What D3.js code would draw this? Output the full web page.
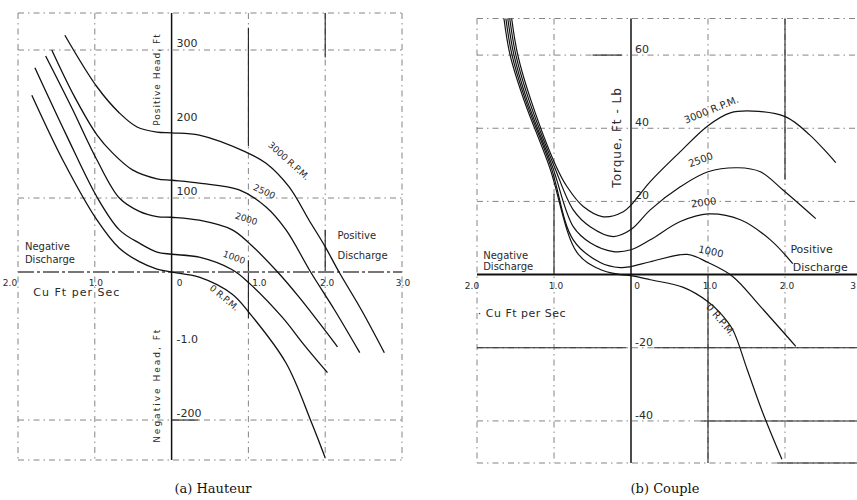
<!DOCTYPE html>
<html>
<head>
<meta charset="utf-8">
<script src="https://cdn.jsdelivr.net/npm/d3@7"></script>
<style>
  body { margin: 0; background: #fff; }
  text { font-family: "DejaVu Sans", sans-serif; fill: #2a2a2a; }
  .cap { font-family: "DejaVu Serif", serif; fill: #111; }
</style>
</head>
<body>
<div id="container"></div>
<script>
// ---------- data ----------
const qTicks = [-2, -1, 0, 1, 2, 3]
const qTickLabelsA = ["2.0", "1.0", "0", "1.0", "2.0", "3.0"]
const qTickLabelsB = ["2.0", "1.0", "0", "1.0", "2.0", "3"]

const headTicks = [300, 200, 100, -100, -200]
const headTickLabels = ["300", "200", "100", "-1.0", "-200"]
const torqueTicks = [60, 40, 20, -20, -40]
const torqueTickLabels = ["60", "40", "20", "-20", "-40"]

const gridQA = [-2, -1, 1, 2, 3]
const gridHead = [350, 300, 100, -200, -254]
const gridQB = [-2, -1, 1, 2, 3]
const gridTorque = [70, 60, 40, 20, -20, -40, -51.5]

const speedLabels = ["3000 R.P.M.", "2500", "2000", "1000", "0 R.P.M."]

// (a) head, ft  vs  discharge, cu ft per sec
const head3000 = [[-1.39, 320], [-0.97, 250], [-0.68, 215], [-0.45, 196], [-0.19, 189], [0, 188], [0.36, 185], [0.97, 162], [1.23, 147], [1.53, 115], [1.79, 70], [1.99, 36], [2.18, 0], [2.47, -51], [2.77, -109]]
const head2500 = [[-1.56, 300], [-1.27, 238], [-0.97, 185], [-0.77, 161], [-0.51, 138], [-0.19, 126], [0, 124], [0.36, 120], [0.88, 111], [1.23, 88], [1.49, 57], [1.81, 0], [2.12, -51], [2.45, -109]]
const head2000 = [[-1.64, 292], [-1.30, 222], [-0.97, 151], [-0.68, 100], [-0.42, 82], [-0.19, 75], [0, 74], [0.36, 70], [0.79, 57], [1.01, 39], [1.38, 0], [1.66, -34], [2.16, -101]]
const head1000 = [[-1.78, 276], [-1.37, 185], [-0.97, 101], [-0.68, 57], [-0.42, 39], [-0.19, 27], [0, 24], [0.36, 20], [0.79, 3], [1.01, -15], [1.44, -61], [1.73, -99], [2.03, -136]]
const head0 = [[-1.82, 239], [-1.40, 148], [-0.97, 70], [-0.68, 32], [-0.42, 14], [-0.19, 4], [0, 0], [0.36, -7], [0.79, -30], [1.01, -55], [1.49, -123], [1.82, -203], [2.0, -251]]

// (b) torque, ft-lb  vs  discharge, cu ft per sec
const torque3000 = [[-1.55, 70], [-1.47, 60], [-1.30, 47.7], [-0.97, 29.5], [-0.83, 24], [-0.62, 18.6], [-0.36, 15.8], [-0.1, 17.2], [0, 19], [0.25, 25.4], [0.64, 33.6], [1.0, 40.7], [1.29, 44.2], [1.58, 44.7], [2.01, 43.1], [2.32, 38.2], [2.66, 30.6]]
const torque2500 = [[-1.575, 70], [-1.495, 60], [-1.325, 47.7], [-0.995, 29.5], [-0.75, 17.7], [-0.53, 13.1], [-0.23, 10.4], [0, 12.3], [0.25, 17.7], [0.64, 24], [1.0, 28.1], [1.39, 29.2], [1.68, 28.1], [1.97, 23.2], [2.4, 15.3]]
const torque2000 = [[-1.60, 70], [-1.52, 60], [-1.35, 47.7], [-1.02, 29.5], [-0.75, 13.1], [-0.53, 8.7], [-0.23, 6.3], [0, 6.8], [0.25, 9.5], [0.64, 14.5], [1.0, 16.6], [1.42, 15], [1.81, 9.5], [2.1, 3]]
const torque1000 = [[-1.625, 70], [-1.545, 60], [-1.37, 47.7], [-1.04, 29.5], [-0.75, 9.5], [-0.4, 3.3], [-0.14, 1.9], [0, 2.2], [0.25, 3.5], [0.73, 5.5], [1.0, 3.3], [1.32, -0.5], [1.68, -8.7], [2.14, -19.6]]
const torque0 = [[-1.65, 70], [-1.57, 60], [-1.39, 47.7], [-1.06, 29.5], [-0.7, 6], [-0.4, 1.4], [-0.14, 0], [0, -0.3], [0.25, -1.4], [0.68, -3.5], [1.0, -7.4], [1.16, -10.5], [1.32, -15], [1.51, -26], [1.71, -37.7], [1.96, -50.5]]

const headSeries = [head3000, head2500, head2000, head1000, head0]
const torqueSeries = [torque3000, torque2500, torque2000, torque1000, torque0]

// ---------- layout ----------
const W = 857, H = 500
const svg = d3.select('#container').append('svg')
  .attr('width', W)
  .attr('height', H)
  .style('background', '#fff')

const xA = d3.scaleLinear().domain([-2, 3]).range([18, 402])
const yA = d3.scaleLinear().domain([350, -254]).range([13, 460])
const xB = d3.scaleLinear().domain([-2, 3]).range([477, 862])
const yB = d3.scaleLinear().domain([70, -51.5]).range([18.5, 463])

const gridDash = '6,4,1.5,4'

function drawGrid (g, x, y, qs, vs) {
  g.selectAll('.vg').data(qs).enter().append('line')
    .attr('x1', d => x(d)).attr('x2', d => x(d))
    .attr('y1', y.range()[0]).attr('y2', y.range()[1])
    .attr('stroke', '#666').attr('stroke-width', 0.8)
    .attr('stroke-dasharray', gridDash)
  g.selectAll('.hg').data(vs).enter().append('line')
    .attr('x1', x.range()[0]).attr('x2', x.range()[1])
    .attr('y1', d => y(d)).attr('y2', d => y(d))
    .attr('stroke', '#666').attr('stroke-width', 0.8)
    .attr('stroke-dasharray', gridDash)
}

function segs (g, x, y, list, width) {
  g.selectAll(null).data(list).enter().append('line')
    .attr('x1', d => x(d[0])).attr('y1', d => y(d[1]))
    .attr('x2', d => x(d[2])).attr('y2', d => y(d[3]))
    .attr('stroke', '#222').attr('stroke-width', width)
}

const line = (x, y) => d3.line()
  .x(d => x(d[0]))
  .y(d => y(d[1]))
  .curve(d3.curveCatmullRom.alpha(0.5))

// ================= (a) Hauteur =================
const gA = svg.append('g')
drawGrid(gA, xA, yA, gridQA, gridHead)
// darker pieces of the hand-drawn grid
segs(gA, xA, yA, [[1, 330, 1, 170], [2, 350, 2, 290], [1, 16, 1, -62], [2, 57, 2, 0], [0, -200, 0.35, -200]], 1.1)

// x axis (grey dash line) and y axis
gA.append('line')
  .attr('x1', xA(-2)).attr('x2', xA(3))
  .attr('y1', yA(0)).attr('y2', yA(0))
  .attr('stroke', '#777').attr('stroke-width', 2)
  .attr('stroke-dasharray', '16,3,3,3')
gA.append('line')
  .attr('x1', xA(0)).attr('x2', xA(0))
  .attr('y1', yA(350)).attr('y2', yA(-254))
  .attr('stroke', '#111').attr('stroke-width', 1.5)

gA.selectAll('.curve').data(headSeries).enter().append('path')
  .attr('d', d => line(xA, yA)(d))
  .attr('fill', 'none')
  .attr('stroke', '#111')
  .attr('stroke-width', 1.3)

const tickDxA = [-8, 1, 8, 11, 2, 1]
gA.selectAll('.xt').data(qTicks).enter().append('text')
  .attr('x', (d, i) => xA(d) + tickDxA[i])
  .attr('y', yA(0) + 14)
  .attr('text-anchor', 'middle')
  .style('font-size', '9px')
  .text((d, i) => qTickLabelsA[i])

gA.selectAll('.yt').data(headTicks).enter().append('text')
  .attr('x', xA(0) + 5)
  .attr('y', d => yA(d) - 3)
  .style('font-size', '11px')
  .text((d, i) => headTickLabels[i])

gA.append('text')
  .attr('transform', `translate(${xA(0) - 12},${yA(260)}) rotate(-90)`)
  .attr('text-anchor', 'middle')
  .style('font-size', '9px').style('letter-spacing', '1px')
  .text('Positive Head, Ft')
gA.append('text')
  .attr('transform', `translate(${xA(0) - 12},${yA(-153)}) rotate(-90)`)
  .attr('text-anchor', 'middle')
  .style('font-size', '9px').style('letter-spacing', '2px')
  .text('Negative Head, Ft')

gA.append('text').attr('x', xA(-1.91)).attr('y', yA(30))
  .style('font-size', '10px').text('Negative')
gA.append('text').attr('x', xA(-1.91)).attr('y', yA(12))
  .style('font-size', '10px').text('Discharge')
gA.append('text').attr('x', xA(2.16)).attr('y', yA(45))
  .style('font-size', '10px').text('Positive')
gA.append('text').attr('x', xA(2.16)).attr('y', yA(18))
  .style('font-size', '10px').text('Discharge')
gA.append('text').attr('x', xA(-1.8)).attr('y', yA(-33))
  .style('font-size', '11px').style('letter-spacing', '1px')
  .text('Cu Ft per Sec')

const labelPosA = [[1.50, 147, 42], [1.19, 105, 25], [0.96, 68, 18], [0.80, 16, 20], [0.66, -38, 40]]
gA.selectAll('.cl').data(labelPosA).enter().append('text')
  .attr('transform', d => `translate(${xA(d[0])},${yA(d[1])}) rotate(${d[2]})`)
  .attr('text-anchor', 'middle')
  .style('font-size', '9px')
  .text((d, i) => speedLabels[i])

svg.append('text').attr('class', 'cap')
  .attr('x', 213).attr('y', 493)
  .attr('text-anchor', 'middle')
  .style('font-size', '13px')
  .text('(a) Hauteur')

// ================= (b) Couple =================
const gB = svg.append('g')
drawGrid(gB, xB, yB, gridQB, gridTorque)
segs(gB, xB, yB, [[-1, 22, -1, 0], [1, 0, 1, -51.5], [2, 70, 2, 26], [-2, -20, -0.06, -20], [0.3, -20, 3, -20],
  [0.9, -40, 3, -40], [1.9, -51.5, 3, -51.5], [-0.5, 60, -0.12, 60]], 1.1)

gB.append('line')
  .attr('x1', xB(-2)).attr('x2', xB(3))
  .attr('y1', yB(0)).attr('y2', yB(0))
  .attr('stroke', '#111').attr('stroke-width', 2)
gB.append('line')
  .attr('x1', xB(0)).attr('x2', xB(0))
  .attr('y1', yB(70)).attr('y2', yB(-51.5))
  .attr('stroke', '#111').attr('stroke-width', 1.5)

gB.selectAll('.curve').data(torqueSeries).enter().append('path')
  .attr('d', d => line(xB, yB)(d))
  .attr('fill', 'none')
  .attr('stroke', '#111')
  .attr('stroke-width', 1.2)

const tickDxB = [-5, 2, 6, 2, 2, 0]
gB.selectAll('.xt').data(qTicks).enter().append('text')
  .attr('x', (d, i) => d === 3 ? W - 1 : xB(d) + tickDxB[i])
  .attr('y', yB(0) + 14)
  .attr('text-anchor', d => d === 3 ? 'end' : 'middle')
  .style('font-size', '9px')
  .text((d, i) => qTickLabelsB[i])

gB.selectAll('.yt').data(torqueTicks).enter().append('text')
  .attr('x', xB(0) + 4)
  .attr('y', d => yB(d) - 2)
  .style('font-size', '11px')
  .text((d, i) => torqueTickLabels[i])

gB.append('text')
  .attr('transform', `translate(${xB(0) - 10},${yB(37.5)}) rotate(-90)`)
  .attr('text-anchor', 'middle')
  .style('font-size', '12px').style('letter-spacing', '1px')
  .text('Torque, Ft - Lb')

gB.append('text').attr('x', xB(-1.92)).attr('y', yB(4.3))
  .style('font-size', '10px').text('Negative')
gB.append('text').attr('x', xB(-1.92)).attr('y', yB(1.2))
  .style('font-size', '10px').text('Discharge')
gB.append('text').attr('x', xB(2.07)).attr('y', yB(6))
  .style('font-size', '11px').text('Positive')
gB.append('text').attr('x', xB(2.1)).attr('y', yB(1))
  .style('font-size', '11px').text('Discharge')
gB.append('text').attr('x', xB(-1.99)).attr('y', yB(-11.6))
  .style('font-size', '11px').style('letter-spacing', '0.5px')
  .text('· Cu Ft per Sec')

const labelPosB = [[1.06, 44.2, -22], [0.92, 30.5, -20], [0.95, 18.8, -8], [1.03, 5.4, 12], [1.13, -13, 50]]
gB.selectAll('.cl').data(labelPosB).enter().append('text')
  .attr('transform', d => `translate(${xB(d[0])},${yB(d[1])}) rotate(${d[2]})`)
  .attr('text-anchor', 'middle')
  .style('font-size', '10px')
  .text((d, i) => speedLabels[i])

svg.append('text').attr('class', 'cap')
  .attr('x', 665).attr('y', 493)
  .attr('text-anchor', 'middle')
  .style('font-size', '13px')
  .text('(b) Couple')
</script>
</body>
</html>
